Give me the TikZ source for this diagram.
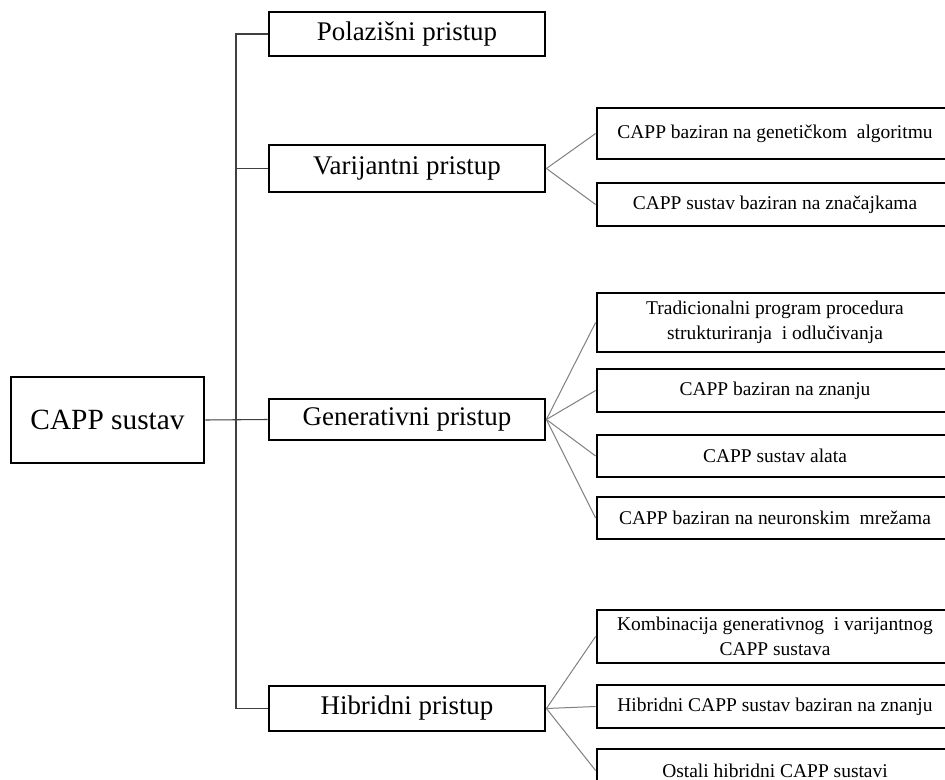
\documentclass[tikz,border=0pt]{standalone}
\usepackage{fontspec}
\setmainfont{Liberation Serif}
\begin{document}
\begin{tikzpicture}[x=0.75pt,y=-0.75pt,
  box/.style={draw=black,line width=2.1pt,inner sep=0pt,align=center,fill=white},
  lone/.style={box,minimum width=144.75pt,minimum height=64.5pt,font=\fontsize{22}{26}\selectfont},
  ltwo/.style={box,minimum width=207pt,font=\fontsize{20.2}{24}\selectfont},
  lthree/.style={box,minimum width=267pt,font=\fontsize{14.6}{18.75}\selectfont},
  trunk/.style={draw=black!75,line width=0.8pt},
  twig/.style={draw=black!50,line width=0.75pt}]
\clip (0,0) rectangle (945,780);
\fill[white] (0,0) rectangle (945,780);
% level 1
\node[lone] (root) at (107.5,420) {CAPP sustav};
% level 2
\node[ltwo,minimum height=33pt] (pol) at (407,34) {Polazišni pristup};
\node[ltwo,minimum height=35.25pt] (var) at (407,168.5) {Varijantni pristup};
\node[ltwo,minimum height=30.75pt] (gen) at (407,419.5) {Generativni pristup};
\node[ltwo,minimum height=33.75pt] (hib) at (407,708.5) {Hibridni pristup};
% level 3
\node[lthree,minimum height=38.25pt] (v1) at (775,133.5) {CAPP baziran na genetičkom\ \ algoritmu};
\node[lthree,minimum height=32.25pt] (v2) at (775,204.5) {CAPP sustav baziran na značajkama};
\node[lthree,minimum height=44.25pt] (g1) at (775,322.5) {Tradicionalni program procedura\\strukturiranja\ \ i odlučivanja};
\node[lthree,minimum height=32.25pt] (g2) at (775,390.5) {CAPP baziran na znanju};
\node[lthree,minimum height=31.5pt] (g3) at (775,456) {CAPP sustav alata};
\node[lthree,minimum height=31.5pt] (g4) at (775,518) {CAPP baziran na neuronskim\ \ mrežama};
\node[lthree,minimum height=39.75pt] (h1) at (775,636.5) {Kombinacija generativnog\ \ i varijantnog\\CAPP sustava};
\node[lthree,minimum height=32.25pt] (h2) at (775,706.5) {Hibridni CAPP sustav baziran na znanju};
\node[lthree,minimum height=32.25pt] (h3) at (775,770.5) {Ostali hibridni CAPP sustavi};
% trunk
\coordinate (tb) at (236,708.5);
\draw[trunk] (pol.west) -| (tb) -- (hib.west);
\draw[trunk] (var.west) -- (var.west -| tb);
\draw[trunk] (root.east) -- (gen.west);
% twigs
\foreach \c in {v1,v2} \draw[twig] (var.east) -- (\c.west);
\foreach \c in {g1,g2,g3,g4} \draw[twig] (gen.east) -- (\c.west);
\foreach \c in {h1,h2,h3} \draw[twig] (hib.east) -- (\c.west);
\end{tikzpicture}
\end{document}
